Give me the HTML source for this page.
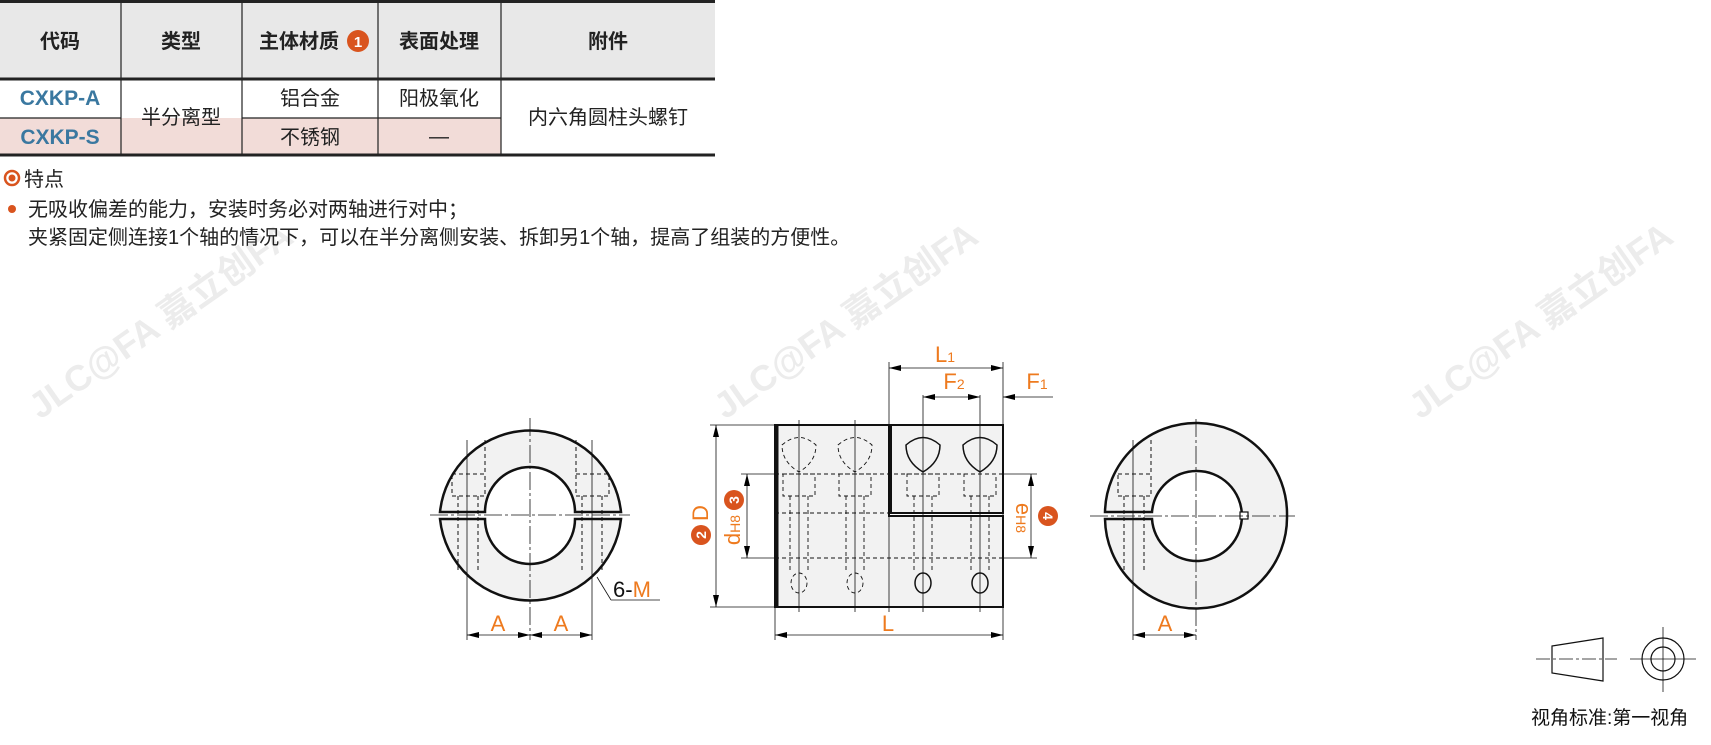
<!DOCTYPE html>
<html><head><meta charset="utf-8"><style>
html,body{margin:0;padding:0;background:#fff;}
svg{display:block;font-family:"Liberation Sans","Noto Sans CJK SC",sans-serif;}
</style></head><body>
<svg width="1711" height="745" viewBox="0 0 1711 745" xmlns="http://www.w3.org/2000/svg">
<defs>
<marker id="ar" viewBox="0 0 12 6" refX="12" refY="3" markerWidth="12" markerHeight="6" orient="auto-start-reverse" markerUnits="userSpaceOnUse"><path d="M0,0 L12,3 L0,6 z" fill="#000"/></marker>
</defs>
<!-- watermarks -->
<g fill="#ececec" font-weight="bold" font-size="36">
<text transform="translate(40,420) rotate(-35)">JLC@FA 嘉立创FA</text>
<text transform="translate(725,420) rotate(-35)">JLC@FA 嘉立创FA</text>
<text transform="translate(1420,420) rotate(-35)">JLC@FA 嘉立创FA</text>
</g>
<!-- table -->
<rect x="0" y="2" width="715" height="77" fill="#e8e8e8"/>
<rect x="0" y="118" width="376" height="37" fill="#f2dcd8"/>
<rect x="376" y="118" width="125" height="37" fill="#f2dcd8"/>
<g stroke="#222" stroke-width="1.2">
<line x1="0" y1="1.5" x2="715" y2="1.5" stroke-width="3"/>
<line x1="0" y1="79" x2="715" y2="79" stroke-width="3"/>
<line x1="0" y1="155" x2="715" y2="155" stroke-width="3"/>
<line x1="0" y1="118" x2="121" y2="118"/>
<line x1="242" y1="118" x2="501" y2="118"/>
<line x1="121" y1="2" x2="121" y2="155"/>
<line x1="242" y1="2" x2="242" y2="155"/>
<line x1="378" y1="2" x2="378" y2="155"/>
<line x1="501" y1="2" x2="501" y2="155"/>
</g>
<g font-size="20" fill="#222" text-anchor="middle" font-weight="bold">
<text x="60" y="48">代码</text>
<text x="181" y="48">类型</text>
<text x="299" y="48">主体材质</text>
<text x="439" y="48">表面处理</text>
<text x="608" y="48">附件</text>
</g>
<circle cx="358" cy="41" r="11" fill="#d9541e"/>
<text x="358" y="47" font-size="15" fill="#fff" text-anchor="middle" font-weight="bold">1</text>
<g font-size="20" fill="#222" text-anchor="middle">
<text x="181" y="124">半分离型</text>
<text x="310" y="105">铝合金</text>
<text x="310" y="144">不锈钢</text>
<text x="439" y="105">阳极氧化</text>
<text x="439" y="143">—</text>
<text x="608" y="124">内六角圆柱头螺钉</text>
</g>
<g font-size="21" fill="#3a78a0" text-anchor="middle" font-weight="bold">
<text x="60" y="105">CXKP-A</text>
<text x="60" y="144">CXKP-S</text>
</g>
<!-- features -->
<circle cx="12" cy="178" r="7" fill="none" stroke="#d9541e" stroke-width="2.5"/>
<circle cx="12" cy="178" r="3.5" fill="#d9541e"/>
<text x="24" y="186" font-size="20" fill="#222">特点</text>
<circle cx="12" cy="209" r="4" fill="#d9541e"/>
<text x="28" y="216" font-size="20" fill="#222">无吸收偏差的能力，安装时务必对两轴进行对中；</text>
<text x="28" y="244" font-size="20" fill="#222">夹紧固定侧连接1个轴的情况下，可以在半分离侧安装、拆卸另1个轴，提高了组装的方便性。</text>

<!-- left ring -->
<g stroke="#111" fill="none">
<path d="M440,512 A91,91 0 0 1 621,512 L575,512 A45,45 0 0 0 485,512 Z" fill="#f2f2f2" stroke-width="2.5"/>
<path d="M440,519 A91,91 0 0 0 621,519 L575,519 A45,45 0 0 1 485,519 Z" fill="#f2f2f2" stroke-width="2.5"/>
<g stroke-dasharray="4,3" stroke-width="1">
<rect x="452" y="474" width="33" height="22"/><rect x="576" y="474" width="33" height="22"/>
<line x1="458" y1="496" x2="458" y2="570"/><line x1="478" y1="496" x2="478" y2="570"/>
<line x1="582" y1="496" x2="582" y2="570"/><line x1="602" y1="496" x2="602" y2="570"/>
<line x1="485" y1="440" x2="485" y2="474"/><line x1="576" y1="440" x2="576" y2="474"/>
</g>
<g stroke-width="0.8" stroke-dasharray="18,3,3,3">
<line x1="530" y1="418" x2="530" y2="640"/><line x1="430" y1="515" x2="630" y2="515"/>
</g>
<g stroke-width="0.8">
<line x1="467" y1="440" x2="467" y2="640"/><line x1="592" y1="440" x2="592" y2="640"/>
<line x1="597" y1="577" x2="611" y2="600"/><line x1="611" y1="600" x2="660" y2="600"/>
<line x1="467" y1="635" x2="530" y2="635" marker-start="url(#ar)" marker-end="url(#ar)"/>
<line x1="530" y1="635" x2="592" y2="635" marker-start="url(#ar)" marker-end="url(#ar)"/>
</g>
</g>
<g font-size="22" fill="#ee7a1e" text-anchor="middle">
<text x="498" y="631">A</text><text x="561" y="631">A</text>
<text x="1165" y="631">A</text>
</g>
<text x="613" y="597" font-size="22" fill="#111">6-<tspan fill="#ee7a1e">M</tspan></text>

<!-- side view -->
<g stroke="#111" fill="none">
<path d="M775,425 L889,425 L889,516 L1003,516 L1003,607 L775,607 Z" fill="#f2f2f2" stroke-width="2"/>
<rect x="891" y="425" width="112" height="88" fill="#f2f2f2" stroke-width="2"/>
<line x1="777" y1="425" x2="777" y2="607" stroke-width="3"/>
<g stroke-width="1.5">
<path d="M906,445 Q923,430 940,445 Q940,462 923,472 Q906,462 906,445 Z"/>
<path d="M963,445 Q980,430 997,445 Q997,462 980,472 Q963,462 963,445 Z"/>
<ellipse cx="923" cy="583" rx="8" ry="10"/><ellipse cx="980" cy="583" rx="8" ry="10"/>
</g>
<g stroke-width="0.9" stroke-dasharray="4,3">
<path d="M782,445 Q799,430 816,445 Q816,462 799,472 Q782,462 782,445 Z"/>
<path d="M838,445 Q855,430 872,445 Q872,462 855,472 Q838,462 838,445 Z"/>
<ellipse cx="799" cy="583" rx="8" ry="10"/><ellipse cx="855" cy="583" rx="8" ry="10"/>
<line x1="775" y1="474" x2="1003" y2="474"/><line x1="775" y1="558" x2="1003" y2="558"/>
<line x1="775" y1="513" x2="889" y2="513"/>
<rect x="783" y="474" width="32" height="22"/><rect x="839" y="474" width="32" height="22"/>
<rect x="907" y="474" width="32" height="22"/><rect x="964" y="474" width="32" height="22"/>
<line x1="790" y1="496" x2="790" y2="570"/><line x1="808" y1="496" x2="808" y2="570"/>
<line x1="846" y1="496" x2="846" y2="570"/><line x1="864" y1="496" x2="864" y2="570"/>
<line x1="914" y1="496" x2="914" y2="570"/><line x1="932" y1="496" x2="932" y2="570"/>
<line x1="971" y1="496" x2="971" y2="570"/><line x1="989" y1="496" x2="989" y2="570"/>
</g>
<g stroke-width="0.8">
<line x1="799" y1="420" x2="799" y2="612"/><line x1="855" y1="420" x2="855" y2="612"/>
<line x1="923" y1="395" x2="923" y2="612"/><line x1="980" y1="395" x2="980" y2="612"/>
<line x1="889" y1="362" x2="889" y2="612"/>
<line x1="1003" y1="362" x2="1003" y2="640"/><line x1="775" y1="607" x2="775" y2="640"/>
<line x1="710" y1="425" x2="775" y2="425"/><line x1="710" y1="607" x2="775" y2="607"/>
<line x1="741" y1="474" x2="775" y2="474"/><line x1="741" y1="558" x2="775" y2="558"/>
<line x1="1003" y1="474" x2="1037" y2="474"/><line x1="1003" y1="558" x2="1037" y2="558"/>
<line x1="716" y1="425" x2="716" y2="607" marker-start="url(#ar)" marker-end="url(#ar)"/>
<line x1="747" y1="474" x2="747" y2="558" marker-start="url(#ar)" marker-end="url(#ar)"/>
<line x1="1031" y1="474" x2="1031" y2="558" marker-start="url(#ar)" marker-end="url(#ar)"/>
<line x1="775" y1="635" x2="1003" y2="635" marker-start="url(#ar)" marker-end="url(#ar)"/>
<line x1="889" y1="368" x2="1003" y2="368" marker-start="url(#ar)" marker-end="url(#ar)"/>
<line x1="923" y1="397" x2="980" y2="397" marker-start="url(#ar)" marker-end="url(#ar)"/>
<line x1="1053" y1="397" x2="1003" y2="397" marker-end="url(#ar)"/>
</g>
</g>
<g font-size="22" fill="#ee7a1e" text-anchor="middle">
<text x="888" y="631">L</text>
<text x="945" y="362">L<tspan font-size="14">1</tspan></text>
<text x="954" y="389">F<tspan font-size="14">2</tspan></text>
<text x="1037" y="389">F<tspan font-size="14">1</tspan></text>
<text transform="translate(708,513) rotate(-90)">D</text>
<text transform="translate(740,530) rotate(-90)">d<tspan font-size="14">H8</tspan></text>
<text transform="translate(1016,518) rotate(90)">e<tspan font-size="14">H8</tspan></text>
</g>
<g fill="#d9541e"><circle cx="701" cy="535" r="10"/><circle cx="734" cy="500" r="10"/><circle cx="1048" cy="516" r="10"/></g>
<g font-size="14" fill="#fff" font-weight="bold" text-anchor="middle">
<text transform="translate(706,535) rotate(-90)">2</text>
<text transform="translate(739,500) rotate(-90)">3</text>
<text transform="translate(1043,516) rotate(90)">4</text>
</g>

<!-- right ring -->
<g stroke="#111" fill="none">
<path d="M1105,512 A91,91 0 1 1 1287,516 A91,91 0 0 1 1105,519 L1152,519 A45,45 0 1 0 1197,471 A45,45 0 0 0 1152,512 Z" fill="#f2f2f2" stroke-width="2.5"/>
<rect x="1240" y="512" width="8" height="7" fill="#fff" stroke-width="1.2"/>
<g stroke-dasharray="4,3" stroke-width="1">
<rect x="1118" y="474" width="33" height="22"/>
<line x1="1124" y1="496" x2="1124" y2="570"/><line x1="1144" y1="496" x2="1144" y2="570"/>
<line x1="1151" y1="440" x2="1151" y2="474"/>
</g>
<g stroke-width="0.8" stroke-dasharray="18,3,3,3">
<line x1="1196" y1="419" x2="1196" y2="640"/><line x1="1090" y1="516" x2="1295" y2="516"/>
</g>
<g stroke-width="0.8">
<line x1="1133" y1="440" x2="1133" y2="640"/>
<line x1="1133" y1="635" x2="1196" y2="635" marker-start="url(#ar)" marker-end="url(#ar)"/>
</g>
</g>

<!-- view symbol -->
<g stroke="#111" fill="none" stroke-width="1.2">
<path d="M1552,646 L1603,638 L1603,681 L1552,673 Z"/>
<line x1="1536" y1="659" x2="1617" y2="659" stroke-width="0.8" stroke-dasharray="14,3,3,3"/>
<circle cx="1663" cy="659" r="21"/><circle cx="1663" cy="659" r="12"/>
<line x1="1630" y1="659" x2="1696" y2="659" stroke-width="0.8"/>
<line x1="1663" y1="627" x2="1663" y2="692" stroke-width="0.8"/>
</g>
<text x="1531" y="724" font-size="19" fill="#111">视角标准:第一视角</text>
</svg>
</body></html>
